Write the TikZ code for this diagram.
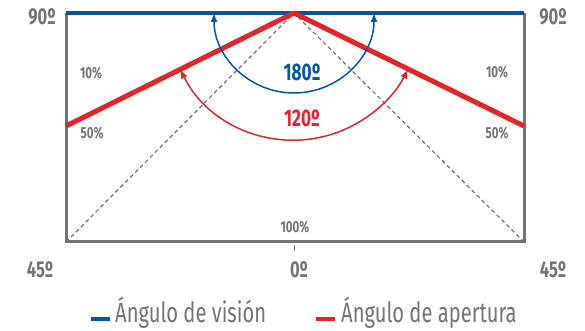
\documentclass[tikz,border=0pt]{standalone}
\usepackage{fontspec}
\setmainfont{Fira Sans}[FakeStretch=0.72]
\usetikzlibrary{arrows.meta}
\definecolor{vblue}{HTML}{0057A8}
\definecolor{vred}{HTML}{E2242B}
\definecolor{vgray}{HTML}{737477}
\tikzset{
  deg/.style={text=vgray,inner sep=0pt,font=\bfseries\fontsize{23}{23}\selectfont},
  pct/.style={text=vgray,inner sep=0pt,font=\bfseries\fontsize{16}{16}\selectfont},
  ang/.style={inner sep=0pt,font=\bfseries\fontsize{24}{24}\selectfont},
  leg/.style={text=vgray,inner sep=0pt,anchor=base west,font=\fontsize{28}{28}\selectfont}
}
\begin{document}
\begin{tikzpicture}[x=1pt,y=1pt]
            \useasboundingbox (0,0) rectangle (585,331);
            \coordinate (A) at (294,318);
            \coordinate (B) at (66,89);
            \coordinate (C) at (524,89);
            \coordinate (BT) at (66,318);
            \coordinate (CT) at (524,318);
            \coordinate (S) at (66,205);
            \coordinate (T) at (524,205);
            \coordinate (K) at (294,86);
            \coordinate (K2) at (294,80);

            % frame and diagonals
            \draw[vgray,line width=3pt] (BT) -- (B) -- (C) -- (CT);
            \draw[vgray,line width=1.2pt,dash pattern=on 4pt off 3pt] (B) -- (A) -- (C);
            \draw[vgray,line width=1pt] (K) -- (K2);

            % viewing and aperture lines
            \draw[vblue,line width=4pt] (BT) -- (CT);
            \draw[vred,line width=5pt,line join=round] (S) -- (A) -- (T);

            % arcs
            \draw[vblue,line width=1.5pt,{Latex[length=9pt,width=7pt]}-{Latex[length=9pt,width=7pt]}]
              ([shift={(180:80)}]A) arc[start angle=180,end angle=360,radius=80];
            \draw[vred,line width=1.5pt,{Latex[length=9pt,width=7pt]}-{Latex[length=9pt,width=7pt]}]
              ([shift={(206.4:127)}]A) arc[start angle=206.4,end angle=333.6,radius=127];

            \node[ang,text=vblue] (V) at (302,259) {180º};
            \node[ang,text=vred] (W) at (302,213) {120º};

            \node[deg] (NL) at (42,314) {90º};
            \node[deg] (NR) at (553,314) {90º};
            \node[deg] (FL) at (40,61) {45º};
            \node[deg] (FR) at (553,61) {45º};
            \node[deg] (Z) at (299,61) {0º};

            \node[pct] (PL1) at (91,258) {10\%};
            \node[pct] (PL5) at (92,198) {50\%};
            \node[pct] (PR1) at (497,259) {10\%};
            \node[pct] (PR5) at (497,198) {50\%};
            \node[pct] (P) at (295,104) {100\%};

            % legend
            \coordinate (L1) at (91,12);
            \coordinate (L2) at (110,12);
            \coordinate (R1) at (316,12);
            \coordinate (R2) at (335,12);
            \draw[vblue,line width=4pt] (L1) -- (L2);
            \draw[vred,line width=4pt] (R1) -- (R2);
            \node[leg] (LV) at (115,8) {Ángulo de visión};
            \node[leg] (LA) at (341,8) {Ángulo de apertura};
          \end{tikzpicture}
\end{document}
